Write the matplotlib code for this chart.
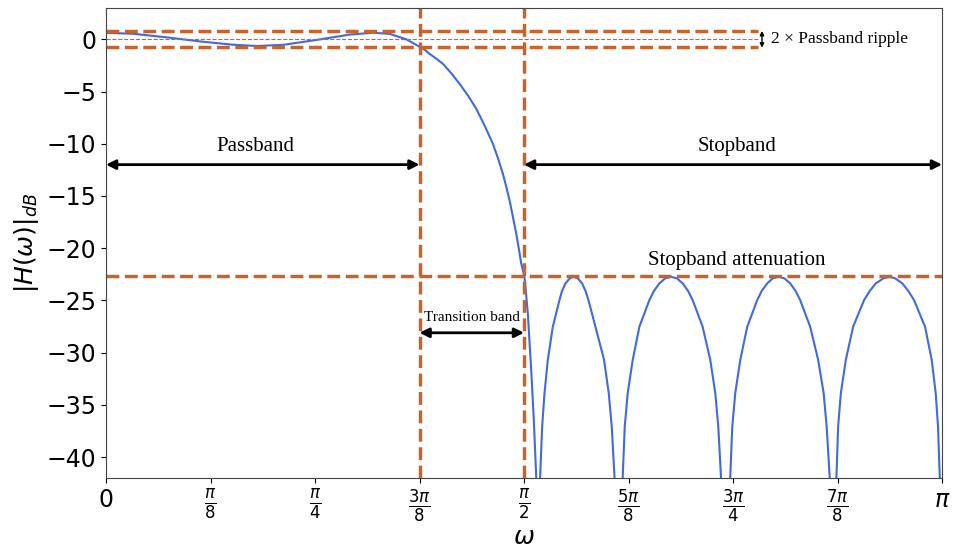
import numpy as np
import matplotlib
matplotlib.use("Agg")
import matplotlib.pyplot as plt

# magnitude response (omega in rad/sample, dB)
w_pass = [0.0, 0.1025, 0.2278, 0.3528, 0.4778, 0.5656, 0.6655, 0.7908, 0.9158,
          1.0033, 1.0660, 1.1286, 1.1786]
h_pass = [0.62, 0.53, 0.19, -0.20, -0.52, -0.64, -0.53, -0.06, 0.45,
          0.63, 0.52, 0.0, -0.72]

w_trans = [1.1975, 1.2161, 1.2411, 1.2661, 1.2975, 1.3287, 1.3600, 1.3914,
           1.4225, 1.4537, 1.4725, 1.4912, 1.5040, 1.5164, 1.5290, 1.5415,
           1.5510, 1.5603, 1.5727, 1.5851, 1.5978, 1.6076, 1.6166, 1.6241]
h_trans = [-1.00, -1.40, -1.85, -2.35, -3.25, -4.26, -5.38, -6.65,
           -8.25, -10.0, -11.35, -12.86, -14.10, -15.41, -17.00, -18.6,
           -20.00, -21.46, -22.74, -26.24, -31.66, -36.44, -41.85, -60.0]

# one stopband lobe: levels from the left null up to the peak and back down
h_lobe = [-41.85, -37.08, -33.88, -30.70, -27.52, -24.97, -24.10, -23.37, -22.89,
          -22.74, -22.89, -23.37, -24.10, -24.97, -27.52, -30.70, -33.88,
          -37.08, -41.85, -60.0]

w_lobe1 = [1.6315, 1.6390, 1.6478, 1.6602, 1.6790, 1.7040, 1.7135, 1.7266, 1.7428,
           1.7578, 1.7728, 1.7891, 1.8021, 1.8129, 1.8392, 1.8717, 1.8892,
           1.9005, 1.9108, 1.9293]
w_lobe2 = [1.9418, 1.9493, 1.9605, 1.9793, 2.0043, 2.0419, 2.0590, 2.0794, 2.1010,
           2.1232, 2.1455, 2.1670, 2.1875, 2.2045, 2.2420, 2.2708, 2.2896,
           2.3008, 2.3109, 2.3233]
w_lobe3 = [2.3459, 2.3534, 2.3646, 2.3834, 2.4097, 2.4472, 2.4640, 2.4848, 2.5050,
           2.5272, 2.5495, 2.5711, 2.5915, 2.6086, 2.6461, 2.6762, 2.6968,
           2.7081, 2.7193, 2.7313]
w_lobe4 = [2.7449, 2.7512, 2.7614, 2.7801, 2.8075, 2.8488, 2.8700, 2.8928, 2.9215,
           2.9438, 2.9660, 2.9926, 3.0150, 3.0365, 3.0778, 3.1029, 3.1179,
           3.1266, 3.1330, 3.1416]

omega = np.array(w_pass + w_trans + w_lobe1 + w_lobe2 + w_lobe3 + w_lobe4)
H_db = np.array(h_pass + h_trans + h_lobe * 4)

ripple = 0.75
stop_att = -22.7
w_p = 3 * np.pi / 8
w_s = np.pi / 2

xticks = [k * np.pi / 8 for k in range(9)]
xticklabels = [r"$0$", r"$\frac{\pi}{8}$", r"$\frac{\pi}{4}$", r"$\frac{3\pi}{8}$",
               r"$\frac{\pi}{2}$", r"$\frac{5\pi}{8}$", r"$\frac{3\pi}{4}$",
               r"$\frac{7\pi}{8}$", r"$\pi$"]

oc = "#c8642b"
serif = "Liberation Serif"

fig = plt.figure(figsize=(9.55, 5.5), dpi=100)
ax = fig.add_axes([0.111, 0.131, 0.8754, 0.8545])

ax.plot(omega, H_db, color="royalblue", lw=1.5)

# ripple band
ax.hlines([ripple, -ripple], 0, 2.45, colors=oc, linestyles="--", lw=2.5)
ax.hlines(0, 0, 2.45, colors=oc, linestyles="--", lw=0.8)
ax.axvline(w_p, color=oc, ls="--", lw=2.5)
ax.axvline(w_s, color=oc, ls="--", lw=2.5)
ax.axhline(stop_att, color=oc, ls="--", lw=2.5)

arw = dict(arrowstyle="<|-|>", color="black", lw=2, mutation_scale=14,
           shrinkA=0, shrinkB=0)
ax.annotate("", xy=(0, -12), xytext=(w_p, -12), arrowprops=arw)
ax.text(0.56, -11.2, "Passband", ha="center", va="bottom", fontsize=15, family=serif)
ax.annotate("", xy=(w_s, -12), xytext=(np.pi, -12), arrowprops=arw)
ax.text(2.37, -11.2, "Stopband", ha="center", va="bottom", fontsize=15, family=serif)
ax.text(2.37, stop_att + 0.6, "Stopband attenuation", ha="center", va="bottom",
        fontsize=15, family=serif)
ax.annotate("", xy=(w_p, -28.1), xytext=(w_s, -28.1), arrowprops=arw)
ax.text((w_p + w_s) / 2, -27.3, "Transition band", ha="center", va="bottom",
        fontsize=11, family=serif)
ax.annotate("", xy=(2.465, ripple + 0.05), xytext=(2.465, -ripple - 0.05),
            arrowprops=dict(arrowstyle="<|-|>", color="black", lw=1,
                            mutation_scale=6, shrinkA=0, shrinkB=0))
ax.text(2.5, 0, "2 \u00d7 Passband ripple", ha="left", va="center",
        fontsize=12.5, family=serif)

ax.set_xlim(0, np.pi)
ax.set_ylim(-42, 3)
ax.set_xticks(xticks)
ax.set_xticklabels(xticklabels)
ax.set_yticks(np.arange(-40, 1, 5))
ax.tick_params(labelsize=17)
ax.set_xlabel(r"$\omega$", fontsize=18, labelpad=0)
ax.set_ylabel(r"$|H(\omega)|_{dB}$", fontsize=18)
for s in ax.spines.values():
    s.set_color("#444444")

fig.savefig("out.png", dpi=100)
